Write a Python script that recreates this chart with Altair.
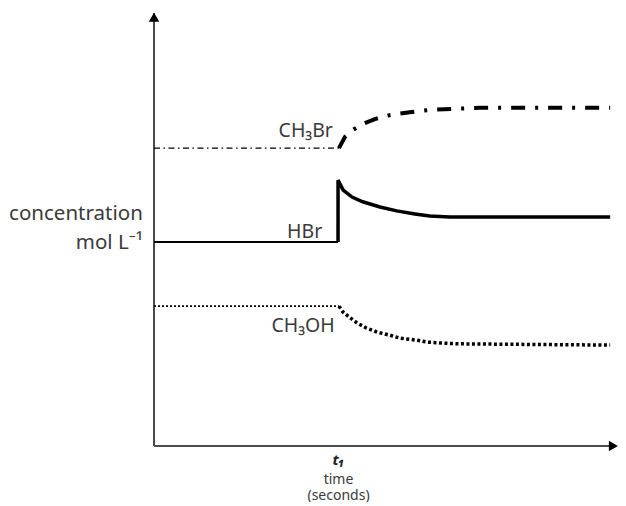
import altair as alt
import pandas as pd

# ---- data (time in arbitrary units, concentration arbitrary 0-100) ----
t1 = 39.6

ch3br_before_t = [0, 39.7]
ch3br_before_c = [68.8, 68.8]
ch3br_after_t = [39.7, 41.0, 42.7, 44.8, 47.4, 50.6, 54.9, 59.2, 64.6, 70.0, 97.9]
ch3br_after_c = [68.8, 71.4, 73.0, 74.4, 75.5, 76.4, 77.1, 77.6, 77.9, 78.1, 78.1]

hbr_before_t = [0, 39.5]
hbr_before_c = [47.1, 47.1]
hbr_after_t = [39.5, 39.5, 40.6, 42.5, 44.8, 48.5, 52.1, 56.0, 59.2, 63.5, 97.9]
hbr_after_c = [47.1, 61.4, 59.1, 57.5, 56.4, 55.2, 54.3, 53.6, 53.1, 52.9, 52.9]

ch3oh_before_t = [0, 39.7]
ch3oh_before_c = [32.3, 32.3]
ch3oh_after_t = [39.7, 40.6, 42.1, 43.6, 45.5, 47.9, 50.6, 52.8, 56.0, 58.6, 61.4, 65.0, 97.9]
ch3oh_after_c = [32.3, 30.9, 29.6, 28.4, 27.3, 26.3, 25.6, 24.9, 24.5, 24.0, 23.8, 23.6, 23.3]

series_labels = ["CH\u2083Br", "HBr", "CH\u2083OH"]
series_label_t = [38.4, 36.1, 38.8]
series_label_c = [72.7, 49.5, 27.6]

ylabel_lines = ["concentration", "mol L\u207b\u00b9"]
ylabel_t = [-2.4, -2.4]
ylabel_c = [53.6, 46.9]

xlabel_text = "time\n(seconds)"
xlabel_c = -7.8
t1_label = "t\u2081"
t1_label_c = -3.3

x_max = 98.3
axis_x_end = 98.3
axis_y_end = 100
arrow_t = [0, 98.6]
arrow_c = [99.0, 0]
arrow_shapes = ["triangle-up", "triangle-right"]

XS = alt.Scale(domain=[0, x_max], nice=False, zero=False)
YS = alt.Scale(domain=[0, 100], nice=False, zero=False)
FONT = "Noto Sans"
TXT = "#3a3a3a"


def X(f="t"):
    return alt.X(f"{f}:Q", scale=XS, axis=None)


def Y(f="c"):
    return alt.Y(f"{f}:Q", scale=YS, axis=None)


def seg(ts, cs, width, dash=None):
    df = pd.DataFrame({"t": ts, "c": cs, "i": list(range(len(ts)))})
    kw = dict(color="black", strokeWidth=width, strokeCap="butt", strokeJoin="miter")
    if dash:
        kw["strokeDash"] = dash
    return alt.Chart(df).mark_line(**kw).encode(x=X(), y=Y(), order="i:Q")


# axes as rules
axes_df = pd.DataFrame({"t": [0, 0], "t2": [axis_x_end, 0], "c": [0, 0], "c2": [0, axis_y_end]})
axes = alt.Chart(axes_df).mark_rule(color="#4a4a4a", strokeWidth=2).encode(
    x=X(), x2="t2:Q", y=Y(), y2="c2:Q")

layers = [
    axes,
    seg(ch3br_before_t, ch3br_before_c, 1.3, [6, 3.5, 1.5, 3.5]),
    seg(ch3br_after_t, ch3br_after_c, 4, [14, 10, 3, 10]),
    seg(hbr_before_t, hbr_before_c, 2),
    seg(hbr_after_t, hbr_after_c, 3.5),
    seg(ch3oh_before_t, ch3oh_before_c, 1.8, [2, 2]),
    seg(ch3oh_after_t, ch3oh_after_c, 3.5, [3, 2.5]),
]

arrow_df = pd.DataFrame({"t": arrow_t, "c": arrow_c, "shape": arrow_shapes})
layers.append(alt.Chart(arrow_df).mark_point(filled=True, color="black", opacity=1, size=110).encode(
    x=X(), y=Y(), shape=alt.Shape("shape:N", scale=None)))

lab_df = pd.DataFrame({"t": series_label_t, "c": series_label_c, "txt": series_labels})
layers.append(alt.Chart(lab_df).mark_text(align="right", baseline="middle", font=FONT,
                                          fontSize=19.5, color=TXT).encode(
    x=X(), y=Y(), text="txt:N"))

yl_df = pd.DataFrame({"t": ylabel_t, "c": ylabel_c, "txt": ylabel_lines})
layers.append(alt.Chart(yl_df).mark_text(align="right", baseline="middle", font=FONT,
                                         fontSize=20.5, color=TXT).encode(
    x=X(), y=Y(), text="txt:N"))

xl_df = pd.DataFrame({"t": [t1], "c": [xlabel_c], "txt": [xlabel_text]})
layers.append(alt.Chart(xl_df).mark_text(align="center", baseline="middle", font=FONT,
                                         fontSize=14, lineBreak="\n", lineHeight=16,
                                         color=TXT).encode(
    x=X(), y=Y(), text="txt:N"))

t1_df = pd.DataFrame({"t": [t1], "c": [t1_label_c], "txt": [t1_label]})
layers.append(alt.Chart(t1_df).mark_text(align="center", baseline="middle", font=FONT,
                                         fontSize=15, fontWeight="bold", fontStyle="italic",
                                         color="#222222").encode(
    x=X(), y=Y(), text="txt:N"))

chart = alt.layer(*layers).properties(
    width=458,
    height=433,
    autosize=alt.AutoSizeParams(type="none"),
    padding={"left": 146, "top": 5, "right": 6, "bottom": 56},
).configure_view(stroke=None)

chart.save("out.html", embed_options={"renderer": "svg", "actions": False})
